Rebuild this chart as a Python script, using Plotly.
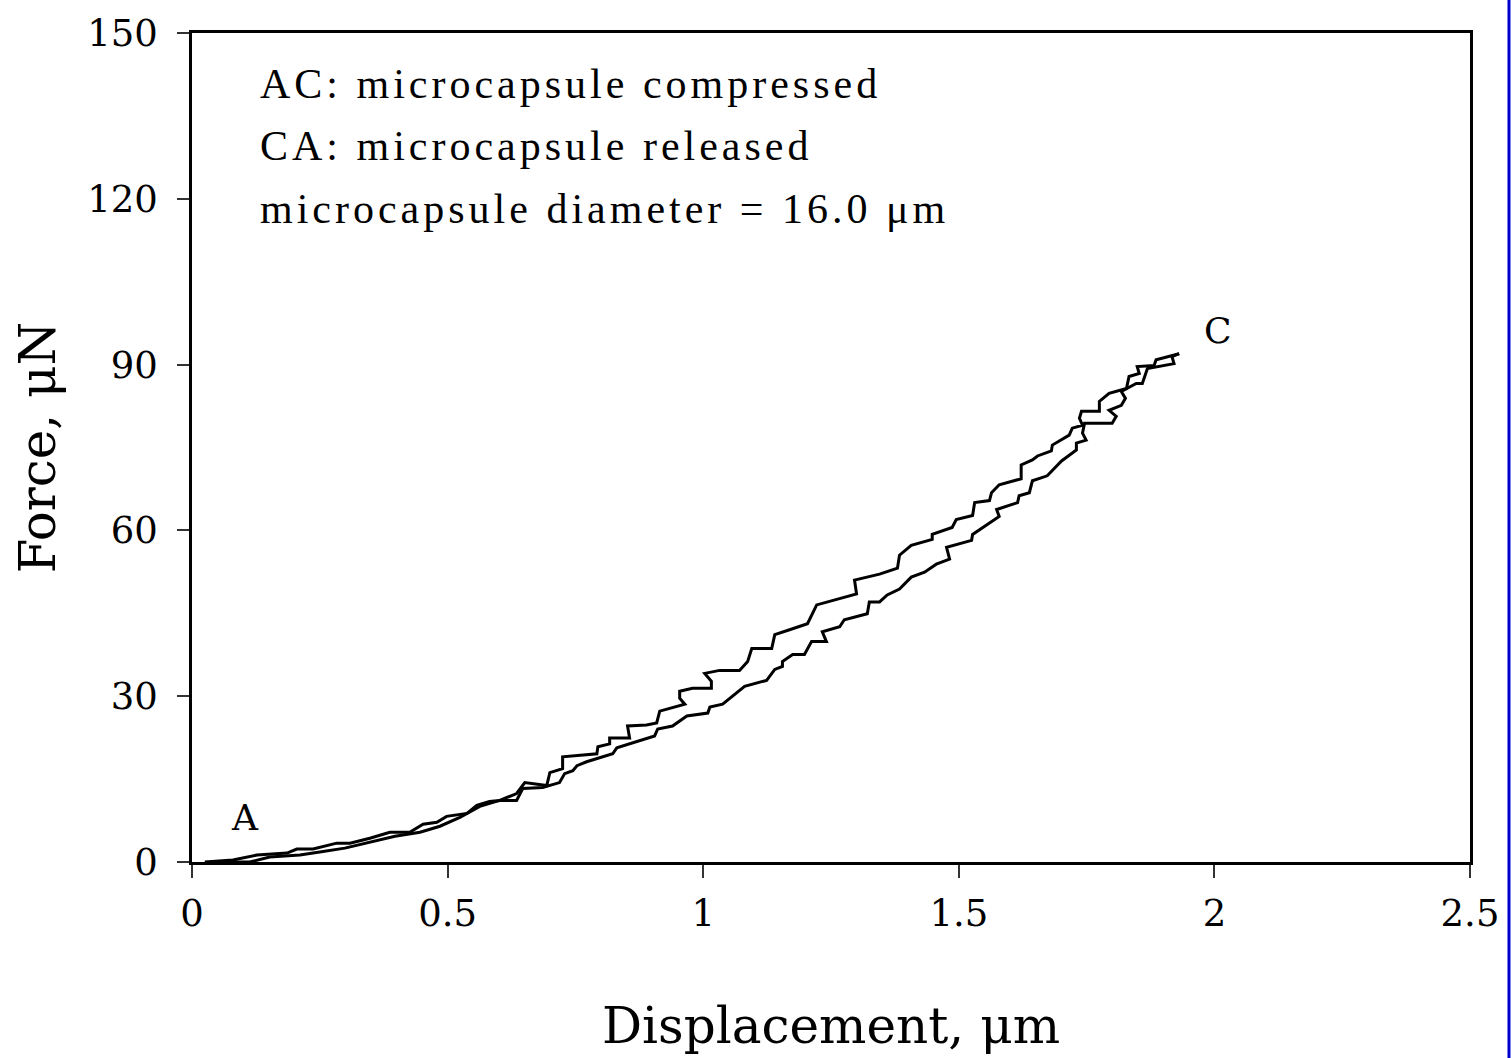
import plotly.graph_objects as go

# Compression curve (A -> C)
comp_x = [0.025, 0.080, 0.127, 0.186, 0.205, 0.237, 0.283, 0.309, 0.348, 0.387, 0.426, 0.452, 0.479, 0.498,
          0.538, 0.557, 0.582, 0.602, 0.635, 0.651, 0.694, 0.700, 0.725, 0.725, 0.792, 0.794, 0.817, 0.817,
          0.856, 0.852, 0.889, 0.909, 0.915, 0.964, 0.954, 0.954, 0.979, 1.016, 1.016, 1.003, 1.032, 1.071,
          1.087, 1.095, 1.134, 1.140, 1.169, 1.188, 1.204, 1.222, 1.267, 1.300, 1.296, 1.345, 1.380, 1.384,
          1.407, 1.448, 1.448, 1.487, 1.495, 1.527, 1.531, 1.560, 1.564, 1.579, 1.622, 1.622, 1.644, 1.654,
          1.681, 1.683, 1.716, 1.722, 1.742, 1.736, 1.740, 1.775, 1.775, 1.794, 1.828, 1.833, 1.853, 1.849,
          1.882, 1.886, 1.916, 1.931]
comp_y = [0.0, 0.36, 1.26, 1.62, 2.34, 2.34, 3.41, 3.41, 4.31, 5.39, 5.39, 6.83, 7.19, 8.26,
          8.80, 10.24, 10.96, 11.14, 12.39, 14.37, 13.83, 16.17, 16.89, 19.04, 19.58, 20.84, 21.38, 22.45,
          22.45, 24.61, 24.79, 25.15, 27.30, 28.56, 29.64, 30.90, 31.44, 31.44, 32.69, 34.13, 34.67, 34.67,
          36.29, 38.62, 38.62, 41.14, 42.03, 42.57, 43.11, 46.52, 47.60, 48.50, 51.01, 52.09, 53.17, 55.51,
          57.30, 58.38, 59.28, 60.54, 61.97, 62.69, 65.03, 65.39, 66.82, 68.26, 69.34, 71.85, 72.75, 73.47,
          74.37, 75.44, 77.24, 78.50, 79.04, 80.29, 81.55, 81.55, 83.35, 84.79, 85.68, 87.84, 88.38, 89.64,
          89.82, 90.89, 91.61, 91.97]

# Release curve (listed from A side up to C)
rel_x = [0.045, 0.113, 0.152, 0.211, 0.250, 0.299, 0.348, 0.397, 0.446, 0.485, 0.524, 0.563, 0.602, 0.635,
         0.647, 0.686, 0.719, 0.729, 0.745, 0.753, 0.772, 0.823, 0.831, 0.862, 0.905, 0.911, 0.940, 0.968,
         1.009, 1.013, 1.038, 1.081, 1.124, 1.140, 1.155, 1.155, 1.175, 1.198, 1.212, 1.241, 1.233, 1.267,
         1.276, 1.321, 1.325, 1.345, 1.360, 1.384, 1.407, 1.433, 1.456, 1.482, 1.476, 1.525, 1.527, 1.579,
         1.574, 1.615, 1.618, 1.638, 1.644, 1.673, 1.701, 1.730, 1.730, 1.749, 1.742, 1.746, 1.800, 1.808,
         1.794, 1.818, 1.826, 1.818, 1.847, 1.859, 1.867, 1.869, 1.892, 1.921, 1.917, 1.931]
rel_y = [0.0, 0.0, 0.90, 1.26, 1.80, 2.51, 3.59, 4.67, 5.39, 6.47, 8.08, 10.06, 11.14, 11.14,
         13.29, 13.47, 14.37, 15.99, 16.53, 17.42, 18.14, 19.58, 20.66, 21.56, 22.81, 24.07, 24.61, 26.41,
         26.94, 28.02, 28.56, 31.79, 32.87, 34.85, 35.39, 36.29, 37.54, 37.54, 39.88, 39.88, 41.67, 42.57,
         43.83, 44.91, 47.06, 47.06, 48.32, 49.40, 51.55, 52.45, 53.89, 54.79, 56.94, 58.20, 59.28, 62.51,
         63.77, 65.03, 66.28, 66.82, 68.98, 69.88, 72.57, 74.55, 75.80, 76.34, 77.60, 79.40, 79.40, 80.65,
         81.73, 82.63, 83.89, 85.14, 86.58, 86.58, 88.74, 89.28, 89.64, 90.18, 91.43, 91.97]

x_ticks = [0, 0.5, 1, 1.5, 2, 2.5]
x_tick_labels = ["0", "0.5", "1", "1.5", "2", "2.5"]
y_ticks = [0, 30, 60, 90, 120, 150]
y_tick_labels = ["0", "30", "60", "90", "120", "150"]

notes = ["AC: microcapsule compressed", "CA: microcapsule released", "microcapsule diameter = 16.0 μm"]
note_y = [140.8, 129.5, 118.2]

point_labels = ["A", "C"]
point_x = [0.104, 2.007]
point_y = [8.1, 96.1]

fig = go.Figure()
fig.add_trace(go.Scatter(x=comp_x, y=comp_y, mode="lines", line=dict(color="black", width=3),
                         name="AC: compressed", showlegend=False))
fig.add_trace(go.Scatter(x=rel_x[::-1], y=rel_y[::-1], mode="lines", line=dict(color="black", width=3),
                         name="CA: released", showlegend=False))

serif = "DejaVu Serif"
for t, yy in zip(notes, note_y):
    fig.add_annotation(x=0.13, y=yy, xref="x", yref="y",
                       text='<span style="letter-spacing:4px">' + t + '</span>', showarrow=False,
                       xanchor="left", yanchor="middle",
                       font=dict(family="Liberation Serif", size=42, color="black"))
for t, xx, yy in zip(point_labels, point_x, point_y):
    fig.add_annotation(x=xx, y=yy, xref="x", yref="y", text=t, showarrow=False,
                       xanchor="center", yanchor="middle",
                       font=dict(family=serif, size=36, color="black"))

# blue edge line at right of the image
fig.add_shape(type="line", xref="paper", yref="paper", x0=1.0305, x1=1.0305, y0=-0.25, y1=1.05,
              line=dict(color="#0000CC", width=3))

fig.update_layout(
    width=1511, height=1058,
    margin=dict(l=192, r=40, t=27, b=196),
    paper_bgcolor="white", plot_bgcolor="white",
    font=dict(family=serif, color="black"),
)
fig.update_xaxes(range=[0, 2.5], tickvals=x_ticks, ticktext=x_tick_labels,
                 showgrid=False, zeroline=False, showline=True, linecolor="black", linewidth=2.5,
                 mirror=True, ticks="outside", ticklen=13, tickwidth=1.5, tickcolor="#333",
                 tickfont=dict(family=serif, size=37, color="black"), ticklabelstandoff=4,
                 title=dict(text="Displacement, μm", font=dict(family=serif, size=50, color="black"),
                            standoff=74))
fig.update_yaxes(range=[0, 150], tickvals=y_ticks, ticktext=y_tick_labels,
                 showgrid=False, zeroline=False, showline=True, linecolor="black", linewidth=2.5,
                 mirror=True, ticks="outside", ticklen=12, tickwidth=1.5, tickcolor="#333",
                 tickfont=dict(family=serif, size=37, color="black"), ticklabelstandoff=12,
                 title=dict(text="Force, μN", font=dict(family=serif, size=50, color="black"),
                            standoff=16))

fig.write_html("out.html")
